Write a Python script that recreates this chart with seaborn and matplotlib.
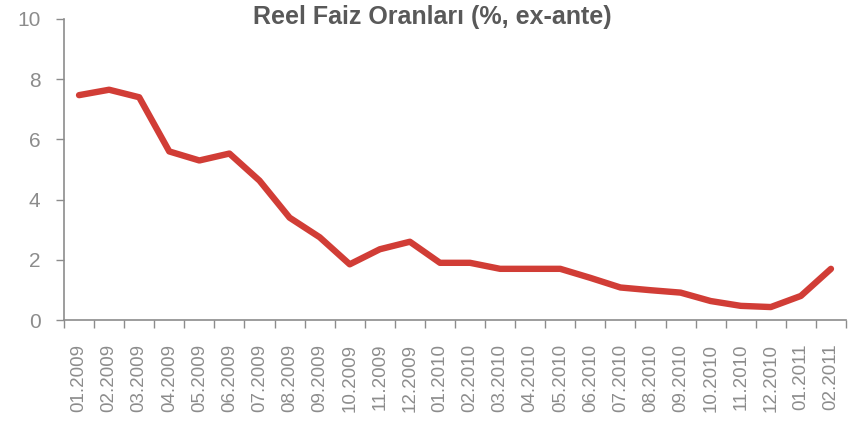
import matplotlib
matplotlib.use("Agg")
import matplotlib.pyplot as plt
import seaborn as sns
import pandas as pd
import numpy as np

months = ["01.2009", "02.2009", "03.2009", "04.2009", "05.2009", "06.2009",
          "07.2009", "08.2009", "09.2009", "10.2009", "11.2009", "12.2009",
          "01.2010", "02.2010", "03.2010", "04.2010", "05.2010", "06.2010",
          "07.2010", "08.2010", "09.2010", "10.2010", "11.2010", "12.2010",
          "01.2011", "02.2011"]
rates = [7.47, 7.65, 7.4, 5.6, 5.3, 5.53, 4.63, 3.4, 2.75, 1.85, 2.35, 2.6,
         1.9, 1.9, 1.7, 1.7, 1.7, 1.4, 1.08, 0.99, 0.91, 0.63, 0.47, 0.43,
         0.8, 1.7]
title = "Reel Faiz Oranları (%, ex-ante)"
yticks = [0, 2, 4, 6, 8, 10]

sns.set_style("white")
plt.rcParams['font.family'] = ['Liberation Sans', 'DejaVu Sans']

df = pd.DataFrame({"idx": np.arange(len(months)), "rate": rates})

fig = plt.figure(figsize=(8.56, 4.24), dpi=100)
ax = fig.add_axes([64/856, 1 - 320/424, (846 - 64)/856, (320 - 19)/424])

sns.lineplot(data=df, x="idx", y="rate", ax=ax, color="#D13D36", linewidth=4.6,
             solid_joinstyle="round", solid_capstyle="round")

gray = "#8C8C8C"
ax.set_xlim(-0.5, len(months) - 0.5)
ax.set_ylim(0, 10)
ax.set_yticks(yticks)
ax.set_yticklabels([str(v) for v in yticks])
ax.set_xticks(np.arange(len(months)))
ax.set_xticklabels(months, rotation=90)
ax.set_xticks(np.arange(len(months) + 1) - 0.5, minor=True)
ax.tick_params(axis="x", which="major", length=0, pad=17, labelsize=13.5, colors=gray, labelcolor=gray)
ax.tick_params(axis="x", which="minor", length=6, width=1, color=gray, direction="out", bottom=True)
ax.tick_params(axis="y", which="major", length=6, width=1, color=gray, labelcolor=gray,
               labelsize=15, direction="out", left=True, pad=11)
ax.set_xlabel("")
ax.set_ylabel("")
for s in ["top", "right"]:
    ax.spines[s].set_visible(False)
for s in ["left", "bottom"]:
    ax.spines[s].set_color(gray)
    ax.spines[s].set_linewidth(1.2)

fig.text(432/856, 1 - 17/424, title, ha="center", va="center",
         fontsize=18, fontweight="bold", color="#595959")

fig.savefig("out.png", dpi=100)
